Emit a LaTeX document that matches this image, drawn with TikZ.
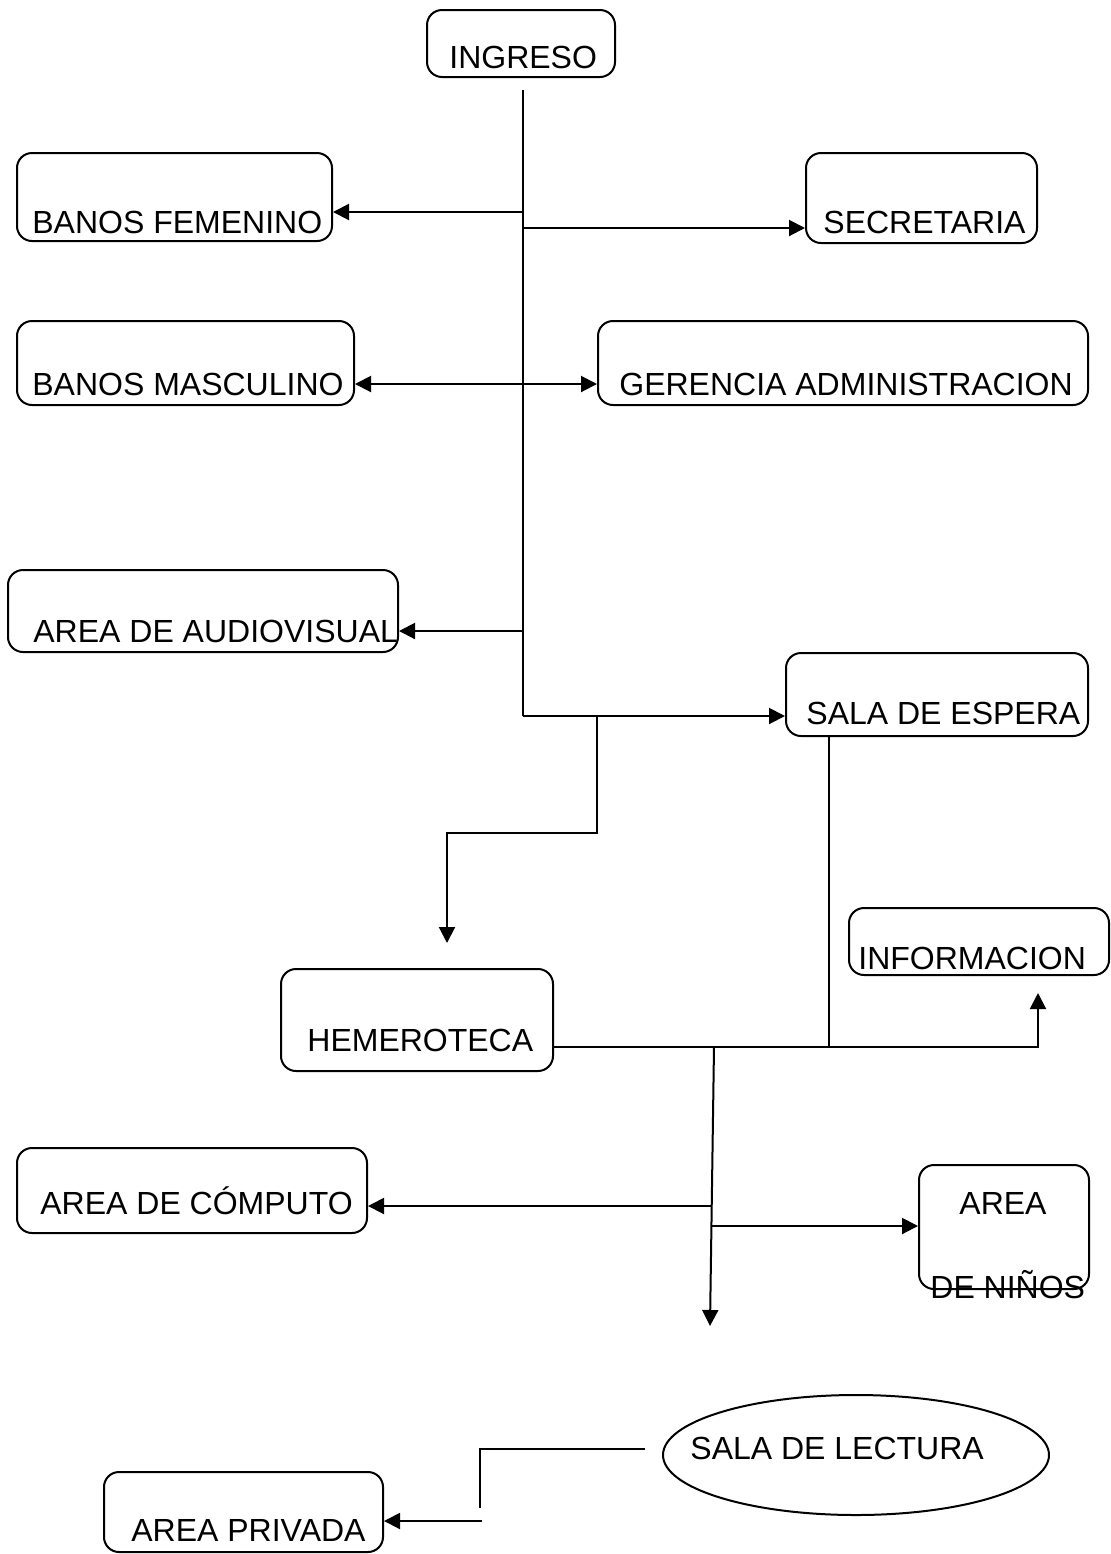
\documentclass[tikz,border=0pt]{standalone}
\usepackage{fontspec}
\setmainfont{Liberation Sans}
\usetikzlibrary{arrows.meta,fit,shapes.geometric}
\begin{document}
\begin{tikzpicture}[x=0.5pt,y=-0.5pt,
  box/.style={draw,rounded corners=7.5pt,line width=1pt,inner sep=0pt},
  lbl/.style={anchor=base west,inner sep=0pt,font=\fontsize{16}{19}\selectfont},
  ln/.style={line width=1pt},
  arr/.style={line width=1pt,-{Triangle[length=8pt,width=8pt]}},
  darr/.style={line width=1pt,{Triangle[length=8pt,width=8pt]}-{Triangle[length=8pt,width=8pt]}}]
\useasboundingbox (0,0) rectangle (1111,1554);
% boxes
\node[box,fit={(427,10)(615,77)}] (ing) {};
\node[box,fit={(17,153)(332,241)}] (bf) {};
\node[box,fit={(806,153)(1037,243)}] (sec) {};
\node[box,fit={(17,321)(354,405)}] (bm) {};
\node[box,fit={(598,321)(1088,405)}] (ger) {};
\node[box,fit={(8,570)(398,652)}] (aud) {};
\node[box,fit={(786,653)(1088,736)}] (esp) {};
\node[box,fit={(849,908)(1109,975)}] (inf) {};
\node[box,fit={(281,969)(553,1071)}] (hem) {};
\node[box,fit={(17,1148)(367,1233)}] (comp) {};
\node[box,fit={(919,1165)(1089,1289)}] (nin) {};
\node[draw,ellipse,line width=1pt,inner sep=0pt,minimum width=193pt,minimum height=60pt] (lect) at (856,1455) {};
\node[box,fit={(104,1472)(383,1552)}] (priv) {};
% texts
\node[lbl] (ting) at (449,68) {INGRESO};
\node[lbl] (tbf) at (32,233) {BANOS FEMENINO};
\node[lbl] (tsec) at (823,233) {SECRETARIA};
\node[lbl] (tbm) at (32,395) {BANOS MASCULINO};
\node[lbl] (tger) at (619,395) {GERENCIA ADMINISTRACION};
\node[lbl] (taud) at (33,642) {AREA DE AUDIOVISUAL};
\node[lbl] (tesp) at (806,724) {SALA DE ESPERA};
\node[lbl] (tinf) at (858,969) {INFORMACION};
\node[lbl] (them) at (307,1051) {HEMEROTECA};
\node[lbl] (tcomp) at (40,1214) {AREA DE CÓMPUTO};
\node[lbl] (tnin1) at (959,1214) {AREA};
\node[lbl] (tnin2) at (930,1298) {DE NIÑOS};
\node[lbl] (tlect) at (690,1459) {SALA DE LECTURA};
\node[lbl] (tpriv) at (131,1541) {AREA PRIVADA};
% coordinates
\coordinate (top) at (523,90);
\coordinate (j1) at (523,716);
\coordinate (a1) at (523,212);
\coordinate (a2) at (523,228);
\coordinate (a3) at (523,384);
\coordinate (a4) at (523,631);
\coordinate (k0) at (597,716);
\coordinate (k1) at (597,833);
\coordinate (k2) at (447,833);
\coordinate (k3) at (447,943);
\coordinate (b1) at (829,1047);
\coordinate (b2) at (1038,1047);
\coordinate (b3) at (1038,993);
\coordinate (c0) at (714,1047);
\coordinate (c1) at (710,1326);
\coordinate (c2) at (711.6,1206);
\coordinate (c3) at (711.4,1226);
\coordinate (d0) at (645,1449);
\coordinate (d1) at (480,1449);
\coordinate (d2) at (480,1508);
\coordinate (d3) at (482,1521);
% connectors
\draw[ln] (top) -- (j1);
\draw[arr] (a1) -- (a1 -| bf.east);
\draw[arr] (a2) -- (a2 -| sec.west);
\draw[darr] (a3 -| bm.east) -- (a3 -| ger.west);
\draw[arr] (a4) -- (a4 -| aud.east);
\draw[arr] (j1) -- (j1 -| esp.west);
\draw[arr] (k0) -- (k1) -- (k2) -- (k3);
\draw[ln] (b1 |- esp.south) -- (b1);
\draw[arr] (b1 -| hem.east) -- (b2) -- (b3);
\draw[arr] (c0) -- (c1);
\draw[arr] (c2) -- (c2 -| comp.east);
\draw[arr] (c3) -- (c3 -| nin.west);
\draw[ln] (d0) -- (d1) -- (d2);
\draw[arr] (d3) -- (d3 -| priv.east);
\end{tikzpicture}
\end{document}
